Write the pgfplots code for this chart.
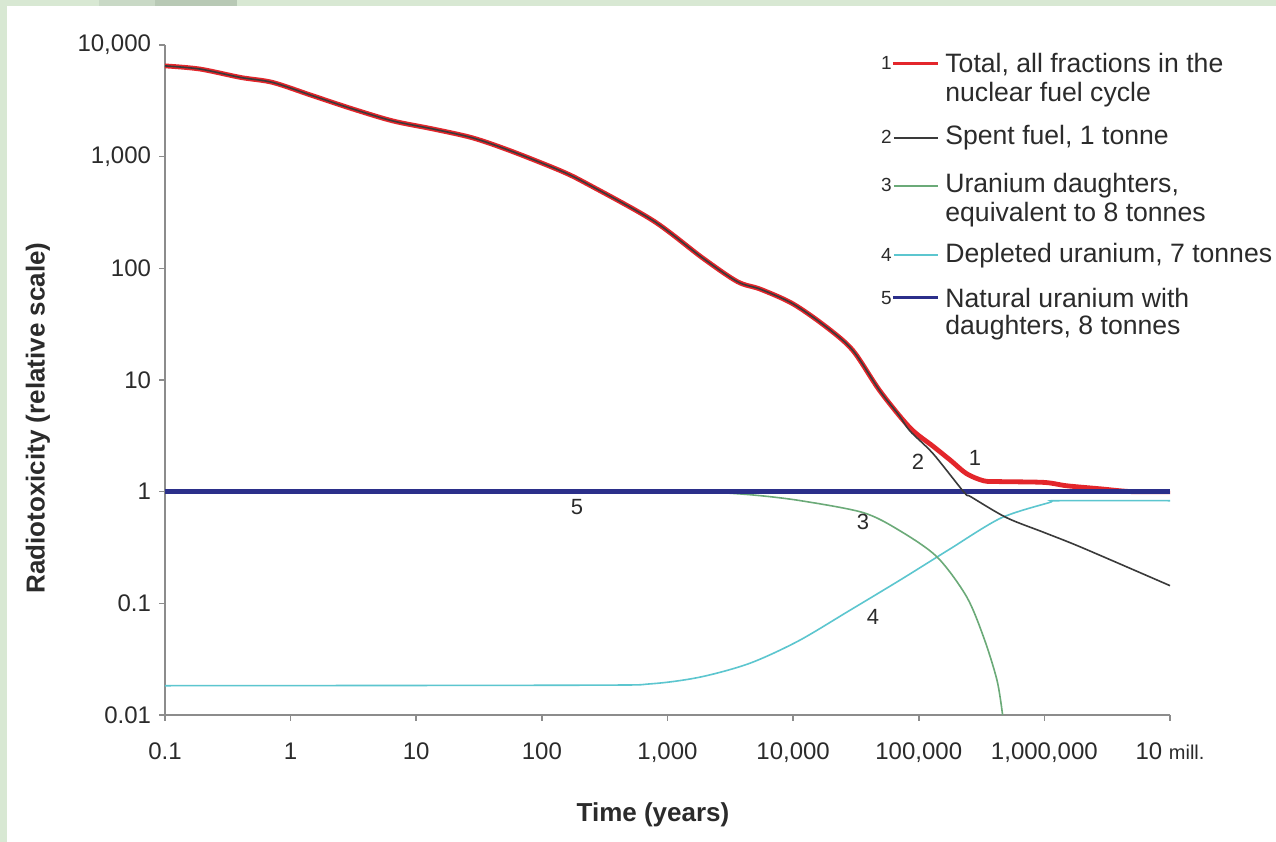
\documentclass[border=0pt]{standalone}
\usepackage{fontspec}
\setmainfont{Liberation Sans}
\usepackage{pgfplots}
\pgfplotsset{compat=1.18}
\definecolor{cred}{HTML}{E3262B}
\definecolor{cblack}{HTML}{3A3A3A}
\definecolor{cgreen}{HTML}{6BAA78}
\definecolor{ccyan}{HTML}{5CC6CF}
\definecolor{cblue}{HTML}{2B2F8A}
\definecolor{caxis}{HTML}{8C8C8C}
\definecolor{ctext}{HTML}{2B2B2B}
\definecolor{bggreen}{HTML}{D8E8D3}
\definecolor{bgg1}{HTML}{C9D9C6}
\definecolor{bgg2}{HTML}{B8C9B5}
\begin{document}
\begin{tikzpicture}
% background frame
\fill[bggreen] (0,0) rectangle (638bp,421bp);
\fill[bgg1] (49.5bp,418bp) rectangle (77.5bp,421bp);
\fill[bgg2] (77.5bp,418bp) rectangle (118.5bp,421bp);
\fill[white] (3.5bp,0) rectangle (638bp,418bp);
\begin{axis}[
  at={(82.5bp,63.5bp)}, anchor=south west,
  scale only axis, width=502.5bp, height=335bp,
  xmode=log, ymode=log,
  xmin=0.1, xmax=1e7, ymin=0.01, ymax=1e4,
  axis lines=left,
  axis line style={-, caxis, line width=1bp},
  tick style={caxis, line width=0.8bp},
  tick align=outside, major tick length=3bp,
  xminorticks=false, yminorticks=false,
  xtick={0.1,1,10,100,1000,10000,100000,1000000,10000000},
  xticklabels={0.1,1,10,100,{1,000},{10,000},{100,000},{1,000,000},{10 {\fontsize{10bp}{12bp}\selectfont mill.}}},
  ytick={0.01,0.1,1,10,100,1000,10000},
  yticklabels={0.01,0.1,1,10,100,{1,000},{10,000}},
  tick label style={font=\fontsize{12bp}{14bp}\selectfont, text=ctext},
  xticklabel style={yshift=-7.5bp},
  yticklabel style={xshift=-0.5bp},
  clip=false,
]
\addplot[ccyan, line width=0.8bp, smooth, tension=0.5] coordinates {
(0.1,0.0183) (230,0.0185) (730,0.019) (1800,0.0218) (4500,0.029) (11000,0.046)
(28000,0.086) (70000,0.16) (140000,0.26) (180000,0.31) (450000,0.58)
(1100000,0.8) (1300000,0.83) (10000000,0.83)};
\addplot[cgreen, line width=0.8bp, smooth, tension=0.5] coordinates {
(0.1,1) (1000,1) (2200,0.99) (5000,0.93) (11500,0.83) (36000,0.65) (70000,0.45)
(140000,0.26) (240000,0.115) (330000,0.049) (420000,0.0204) (465000,0.01)};
\addplot[cred, line width=2.4bp, smooth, tension=0.5] coordinates {
(0.1,6500) (0.19,6090) (0.4,5120) (0.72,4620) (1.5,3510) (3.1,2680) (6.5,2090)
(13.6,1770) (28,1475) (56,1130) (140,750) (230,570) (770,267) (1900,124)
(3600,76) (5500,65) (10000,48) (18700,29.4) (30000,18.3) (49000,8.0)
(85000,3.74) (130000,2.55) (180000,1.9) (240000,1.45) (330000,1.25) (450000,1.23)
(1000000,1.21) (1500000,1.13) (2800000,1.06) (5000000,1.0) (10000000,1.0)};
\addplot[cblue, line width=2.4bp] coordinates {(0.1,1) (10000000,1)};
\addplot[cblack, line width=0.8bp, smooth, tension=0.5] coordinates {
(0.1,6500) (0.19,6090) (0.4,5120) (0.72,4620) (1.5,3510) (3.1,2680) (6.5,2090)
(13.6,1770) (28,1475) (56,1130) (140,750) (230,570) (770,267) (1900,124)
(3600,76) (5500,65) (10000,48) (18700,29.4) (30000,18.3) (49000,8.0)
(70000,4.8) (85000,3.5) (130000,2.19) (230000,0.985) (260000,0.9) (500000,0.585)
(1000000,0.43) (2000000,0.315) (10000000,0.144)};
\end{axis}
\begin{scope}[shift={(0bp,421bp)}, x=0.5bp, y=-0.5bp]
% axis titles
\node[rotate=90, font=\bfseries\fontsize{13bp}{15bp}\selectfont, text=ctext] at (38,418) {Radiotoxicity (relative scale)};
\node[font=\bfseries\fontsize{13bp}{15bp}\selectfont, text=ctext] at (653,815) {Time (years)};
% curve labels
\begin{scope}[every node/.style={font=\fontsize{11bp}{13bp}\selectfont, text=ctext}]
\node at (975,458) {1};
\node at (918,462) {2};
\node at (863,522) {3};
\node at (873,617) {4};
\node at (577,507) {5};
\end{scope}
% legend
\begin{scope}[every node/.style={font=\fontsize{13.3bp}{15bp}\selectfont, text=ctext, inner sep=0pt}]
\node[anchor=base west] at (945,73) {Total, all fractions in the};
\node[anchor=base west] at (945,102) {nuclear fuel cycle};
\node[anchor=base west] at (945,145) {Spent fuel, 1 tonne};
\node[anchor=base west] at (945,193) {Uranium daughters,};
\node[anchor=base west] at (945,222) {equivalent to 8 tonnes};
\node[anchor=base west] at (945,263) {Depleted uranium, 7 tonnes};
\node[anchor=base west] at (945,308) {Natural uranium with};
\node[anchor=base west] at (945,335) {daughters, 8 tonnes};
\end{scope}
\begin{scope}[every node/.style={font=\fontsize{9.5bp}{11bp}\selectfont, text=ctext, inner sep=0pt, anchor=east}]
\node at (892,63) {1};
\node at (892,137) {2};
\node at (892,185) {3};
\node at (892,255) {4};
\node at (892,298) {5};
\end{scope}
\draw[cred, line width=1.5bp] (893,64) -- (938,64);
\draw[cblack, line width=0.7bp] (894,138) -- (938,138);
\draw[cgreen, line width=0.7bp] (894,186) -- (938,186);
\draw[ccyan, line width=0.7bp] (894,255) -- (938,255);
\draw[cblue, line width=1.5bp] (893,298) -- (938,298);
\end{scope}
\end{tikzpicture}
\end{document}
